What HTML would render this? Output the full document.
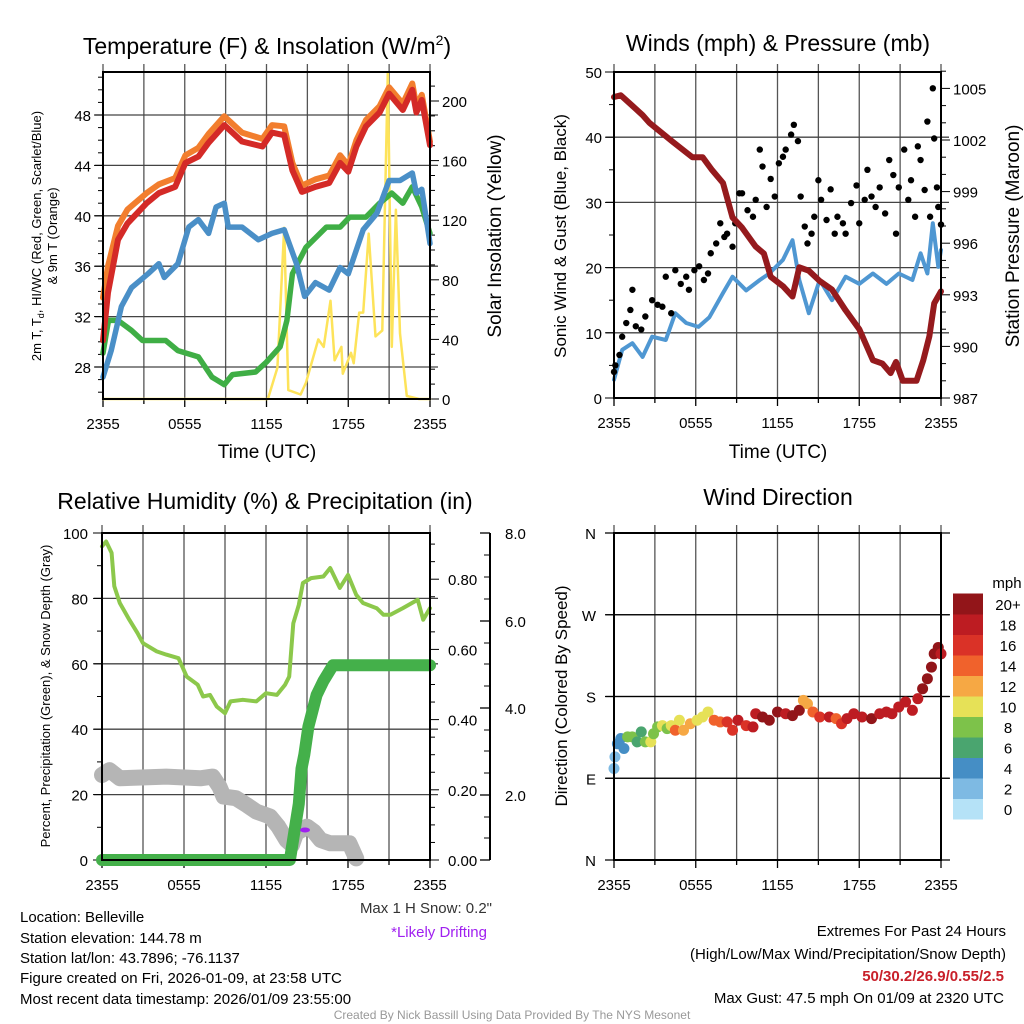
<!DOCTYPE html>
<html><head><meta charset="utf-8">
<style>
html,body{margin:0;padding:0;background:#fff;}
svg{display:block;font-family:"Liberation Sans",Arial,sans-serif;}
</style></head>
<body>
<svg id="c" width="1024" height="1024" viewBox="0 0 1024 1024" xmlns="http://www.w3.org/2000/svg">
<rect width="1024" height="1024" fill="#fff"/>
<g id="g1"></g>
<g id="g2"></g>
<g id="g3"></g>
<g id="g4"></g>
<text x="267" y="54" font-size="23" text-anchor="middle">Temperature (F) &amp; Insolation (W/m<tspan dy="-9" font-size="14">2</tspan><tspan dy="9">)</tspan></text>
<text x="778" y="51" font-size="23" text-anchor="middle">Winds (mph) &amp; Pressure (mb)</text>
<text x="265" y="509" font-size="23" text-anchor="middle">Relative Humidity (%) &amp; Precipitation (in)</text>
<text x="778" y="505" font-size="23" text-anchor="middle">Wind Direction</text>
<text x="267" y="458" font-size="19" text-anchor="middle">Time (UTC)</text>
<text x="778" y="458" font-size="19" text-anchor="middle">Time (UTC)</text>
<text transform="translate(41,236) rotate(-90)" font-size="13" text-anchor="middle">2m T, T<tspan dy="3" font-size="9">d</tspan><tspan dy="-3">, HI/WC (Red, Green, Scarlet/Blue)</tspan></text>
<text transform="translate(57,236) rotate(-90)" font-size="13" text-anchor="middle">&amp; 9m T (Orange)</text>
<text transform="translate(501,236) rotate(-90)" font-size="19" text-anchor="middle">Solar Insolation (Yellow)</text>
<text transform="translate(566,236) rotate(-90)" font-size="17" text-anchor="middle">Sonic Wind &amp; Gust (Blue, Black)</text>
<text transform="translate(1019,236) rotate(-90)" font-size="19" text-anchor="middle">Station Pressure (Maroon)</text>
<text transform="translate(50,696) rotate(-90)" font-size="13" text-anchor="middle">Percent, Precipitation (Green), &amp; Snow Depth (Gray)</text>
<text transform="translate(567,696) rotate(-90)" font-size="17" text-anchor="middle">Direction (Colored By Speed)</text>
<g font-size="15">
<text x="20" y="922">Location: Belleville</text>
<text x="20" y="943">Station elevation: 144.78 m</text>
<text x="20" y="963">Station lat/lon: 43.7896; -76.1137</text>
<text x="20" y="983">Figure created on Fri, 2026-01-09, at 23:58 UTC</text>
<text x="20" y="1004">Most recent data timestamp: 2026/01/09 23:55:00</text>
</g>
<text x="492" y="913" font-size="15" fill="#333" text-anchor="end">Max 1 H Snow: 0.2"</text>
<text x="487" y="937" font-size="15" fill="#a020f0" text-anchor="end">*Likely Drifting</text>
<g font-size="15" text-anchor="end">
<text x="1006" y="936">Extremes For Past 24 Hours</text>
<text x="1006" y="959">(High/Low/Max Wind/Precipitation/Snow Depth)</text>
<text x="1004" y="981" font-weight="bold" fill="#c8202a">50/30.2/26.9/0.55/2.5</text>
<text x="1004" y="1003">Max Gust: 47.5 mph On 01/09 at 2320 UTC</text>
</g>
<text x="512" y="1019" font-size="12" fill="#999" text-anchor="middle">Created By Nick Bassill Using Data Provided By The NYS Mesonet</text>
</svg>
<script>
// ---- Temperature panel data (hours since 2355) ----
const redT=[0,0.37,1.1,1.8,3.2,4.1,5.3,6.05,7.0,7.75,8.9,10.2,11.7,12.4,13.3,13.9,14.6,15.6,16.6,17.4,18.0,18.6,19.3,20.3,21.0,22.0,22.7,23.0,23.4,24];
const redV=[30.1,33.9,38.1,39.4,41.0,41.8,42.3,44.2,44.7,45.8,47.2,45.9,45.5,46.6,46.4,43.6,41.9,42.3,42.6,44.2,43.5,45.5,47.1,48.2,49.7,48.4,50.0,48.2,49.2,45.6];
const orangeV=[33.5,36.0,39.2,40.5,41.8,42.5,43.0,44.8,45.4,46.5,47.9,46.6,46.1,47.2,47.1,44.2,42.4,42.9,43.2,44.8,44.0,46.0,47.6,48.7,50.2,48.9,50.5,48.7,49.6,45.9];
const blueT=[0,0.6,1.35,2.1,3.3,4.1,4.5,5.5,6.3,7.0,7.75,8.3,8.9,9.2,10.2,11.4,12.4,13.3,14.2,14.8,15.6,16.6,17.4,18.0,19.1,20.1,21,21.8,22.7,23,23.4,24];
const blueV=[27.2,29.3,32.8,34.3,35.4,36.2,35.1,36.2,39.1,39.7,38.6,40.7,41.0,39.1,39.1,38.1,38.6,38.9,36.2,33.6,34.7,34.1,35.9,35.4,38.9,40.2,42.8,42.8,43.4,41.8,42.1,37.8];
const greenT=[0,0.4,1.1,2.1,2.9,4.6,5.5,7.0,8.0,8.9,9.5,11.2,12.0,13.0,13.5,13.9,14.9,16.4,17.4,18.1,19.3,20.3,21.2,22,22.7,23.4,24];
const greenV=[29.1,31.7,31.7,30.9,30.1,30.1,29.3,28.8,27.2,26.6,27.4,27.6,28.4,29.6,31.7,35.4,37.5,39.1,39.1,39.9,39.9,41.0,41.8,41.0,42.3,40.7,38.6];
const solarT=[0,12.1,12.8,13.3,13.6,14.5,14.9,15.8,16.2,16.7,17.0,17.5,17.6,18.2,18.4,18.8,19.1,19.5,20.0,20.5,20.9,21.2,21.5,21.8,22.3,23.2,24];
const solarV=[0,0,21,115,6,3,11,40,35,66,26,35,17,31,24,58,58,111,42,46,219,35,127,44,2,0,0];
const tempTicks=[28,32,36,40,44,48];
const solarTicks=[0,40,80,120,160,200];
const timeLabels=["2355","0555","1155","1755","2355"];
// ---- Winds panel data ----
const presT=[0,0.5,2.1,2.6,4.3,5.75,6.5,7.2,8.0,8.7,9.4,10.4,11.0,11.5,12.4,13.1,13.6,14.3,15.1,16.0,17.0,18.0,19.0,19.7,20.3,20.7,21.2,22.2,22.7,23.15,23.5,24];
const presV=[1004.5,1004.6,1003.45,1003.0,1001.9,1001.0,1001.0,1000.25,999.5,997.5,996.9,995.8,995.4,994.05,993.5,992.9,994.6,994.4,993.8,993.3,992.1,991.0,989.2,989.0,988.45,989.1,988.0,988.0,989.2,990.6,992.5,993.2];
const windT=[0,0.6,1.35,2.1,2.8,3.8,4.5,5.3,6.2,7.0,8.0,8.7,9.7,10.7,11.4,12.4,13.1,13.6,14.3,15.1,16.0,17.0,18.0,19.0,20.0,20.9,21.9,22.5,23.0,23.4,23.8,24];
const windV=[2.8,7.4,8.4,6.3,9.4,8.9,13.0,11.5,10.9,12.4,16.1,18.6,16.5,18.1,19.1,21.2,24.2,18.1,13.0,18.1,15.0,18.6,17.5,19.1,17.5,19.1,18.1,22.2,19.1,26.8,20.1,22.7];
const gustT=[0,0.1,0.4,0.6,0.9,1.2,1.35,1.6,2.0,2.3,2.8,3.2,3.55,3.8,4.2,4.5,4.9,5.3,5.5,5.9,6.25,6.6,6.9,7.1,7.5,7.8,8.1,8.3,8.7,8.9,9.2,9.4,9.8,10.2,10.4,10.7,10.9,11.2,11.5,11.8,12.1,12.4,12.6,13.0,13.2,13.5,13.7,14.0,14.2,14.5,14.7,15.0,15.2,15.6,15.9,16.2,16.4,16.8,17.0,17.4,17.8,18.0,18.4,18.6,18.9,19.2,19.5,19.9,20.2,20.5,20.7,20.9,21.3,21.6,21.8,22.1,22.3,22.5,22.8,23.0,23.2,23.4,23.5,23.7,23.8,24];
const gustV=[4.0,5,6.6,9.4,11.5,13.5,16.6,11,10.5,12.5,15,14.3,14,18.6,13,19.6,17.5,18.6,16.6,19.6,20.2,18.1,19.1,22.2,23.7,26.8,24.7,25.2,23.2,26.8,31.4,31.4,28.8,27.8,30.4,38.1,35.5,29.3,33.6,30.9,36,37,38.1,40.4,41.9,39.4,30.9,26.3,23.7,25.2,27.8,33.4,30.4,27.3,32,25.2,27.8,26.8,25.2,29.9,32.6,26.8,30.4,35.0,30.9,29.3,32.3,28.3,36.5,34.2,25.2,32.3,38.1,30.4,33.4,27.8,38.6,36.5,31.9,42.4,27.8,47.5,39.8,32.3,29.3,26.6];
const windTicks=[0,10,20,30,40,50];
const presTicks=[987,990,993,996,999,1002,1005];
// ---- Humidity panel data ----
const rhT=[0,0.3,0.7,0.9,1.3,2.0,2.6,3.0,4.0,4.7,5.6,6.2,7.0,7.4,7.9,8.4,9.0,9.4,10.3,11.3,12.0,12.8,13.4,13.7,14.0,14.4,14.7,15.3,16.2,16.7,17.4,18.0,18.6,19.1,20.1,20.6,21.1,22.0,23.1,23.5,24];
const rhV=[95.9,97.4,93.9,83.7,78.6,73.5,69.4,66.3,63.8,62.8,61.7,56.1,53.6,50,50.5,46.9,44.9,48.5,49,48.5,51,50.5,53.6,56.1,72.4,78,84.7,86.2,86.7,89.3,83.2,87.2,81.1,78.6,77,75,75,77,79.6,73.5,77];
const precipT=[0,13.75,14.4,14.6,14.8,15.1,15.7,16.2,16.9,24];
const precipV=[0,0,0.16,0.26,0.30,0.38,0.47,0.51,0.555,0.555];
const snowT=[0,0.55,1.3,4.7,7.2,8.1,8.6,8.9,9.8,10.6,11.3,12.3,12.9,13.5,13.9,14.2,15.0,15.5,16.0,16.7,18.1,18.6];
const snowV=[26,27.5,25,25.5,25,25.5,22.4,19.4,18.9,16.8,14.8,13.3,10.2,6.1,4.6,8.2,10.2,8.7,6.1,5.1,5.1,0.5];
const rhTicks=[0,20,40,60,80,100];
const precipTicks=[0,0.2,0.4,0.6,0.8];
const precipLabels=["0.00","0.20","0.40","0.60","0.80"];
const snowLabels=["2.0","4.0","6.0","8.0"];
// ---- Wind direction panel data ----
const dirT=[0,0.07,0.25,0.5,0.73,1.0,1.35,1.7,2.0,2.3,2.7,2.9,3.2,3.55,3.9,4.2,4.5,4.8,5.1,5.6,6.1,6.5,6.9,7.35,7.8,8.3,8.7,9.1,9.7,10.2,10.4,10.9,11.4,12.0,12.6,13.1,13.6,13.9,14.2,14.6,15.1,15.8,16.3,16.7,17.1,17.6,18.2,18.9,19.5,20.0,20.4,20.9,21.4,21.9,22.3,22.65,23.0,23.3,23.5,23.8,24];
const dirV=[100.7,113.5,128,133.7,122.7,135.5,135.5,130,141,130,130,139,146.5,148,144.7,148,142.8,153.8,142.8,150,153.8,157.5,163,153.8,152,152,142.8,153.8,148,146.5,161,157.5,153.8,163,161,159,164.8,175.8,172,163,157.5,157.5,155.6,150,155.6,161,157.5,155.6,161,163,161,168.5,174,164.8,177.6,188.6,199.6,212.4,227,234,227];
const dirSpd=[2,3,4,4,5,8,8,7,6,8,10,8,8,10,8,10,14,10,12,12,10,10,10,14,14,16,16,18,16,18,18,20,20,20,18,20,20,13,12,14,16,18,14,16,18,18,18,20,18,18,18,18,18,18,18,20,20,20,20,20,18];
const dirLabels=["N","E","S","W","N"];
const cbarLabels=["0","2","4","6","8","10","12","14","16","18","20+"];
const cbarColors=["#b5e2f7","#7ebae3","#458ec5","#4aa56f","#7dc24a","#e6e157","#f6a844","#f0622c","#da3227","#bd1c22","#921519"];

const NS="http://www.w3.org/2000/svg";
function el(tag,attrs,parent){const e=document.createElementNS(NS,tag);for(const k in attrs)e.setAttribute(k,attrs[k]);parent.appendChild(e);return e;}
function txt(s,attrs,parent){const e=el("text",attrs,parent);e.textContent=s;return e;}
function pathD(ts,vs,sx,sy){return ts.map((t,i)=>(i?"L":"M")+sx(t).toFixed(1)+","+sy(vs[i]).toFixed(1)).join("");}

function frame(g,x0,x1,y0,y1,hTicks,sy){
  for(let h=0;h<=24;h+=3){const x=x0+(x1-x0)*h/24;
    const ln=el("line",{x1:x,x2:x,y1:y0-8,y2:y1,stroke:"#555","stroke-width":1.3},g);
    
    
    const tk=el("line",{x1:x,x2:x,y1:y1,y2:y1+(h%6===0?8:5),stroke:"#000","stroke-width":1.3},g);
    
    
  }
  hTicks.forEach(v=>{const y=sy(v);
    const ln=el("line",{x1:x0-8,x2:x1+8,y1:y,y2:y,stroke:"#444","stroke-width":1.3},g);
    
    
  });
  timeLabels.forEach((s,i)=>{const t=txt(s,{x:x0+(x1-x0)*i/4,y:y1+30,"font-size":15,"text-anchor":"middle"},g);
    
    });
}
function box(g,x0,x1,y0,y1){const r=el("rect",{x:x0,y:y0,width:x1-x0,height:y1-y0,fill:"none",stroke:"#000","stroke-width":2},g);
  
  }
function line(g,ts,vs,sx,sy,color,w,name){const p=el("path",{d:pathD(ts,vs,sx,sy),fill:"none",stroke:color,"stroke-width":w,"stroke-linejoin":"round","stroke-linecap":"round"},g);
  
  return p;}

// ===== Panel 1 =====
{const g=document.getElementById("g1");const x0=103,x1=430,y0=72,y1=399;
 const sx=t=>x0+(x1-x0)*t/24, sy=v=>367-(v-28)*12.6, ss=v=>Math.max(y0,399-v*1.49);
 frame(g,x0,x1,y0,y1,tempTicks,sy);
 for(let v=26;v<=51;v++){const y=sy(v);const tk=el("line",{x1:x0-(v%4===0?9:5),x2:x0,y1:y,y2:y,stroke:"#000","stroke-width":1},g);
   
   }
 tempTicks.forEach(v=>{const t=txt(String(v),{x:x0-12,y:sy(v)+6,"font-size":15,"text-anchor":"end"},g);
   
   });
 for(let v=0;v<=210;v+=10){const y=399-v*1.49;const tk=el("line",{x1:x1,x2:x1+(v%40===0?9:5),y1:y,y2:y,stroke:"#000","stroke-width":1},g);
   
   }
 solarTicks.forEach(v=>{const t=txt(String(v),{x:x1+12,y:399-v*1.49+6,"font-size":15},g);
   
   });
 line(g,solarT,solarV,sx,ss,"#fde35a",2.5,"solar-insolation-line");
 line(g,greenT,greenV,sx,sy,"#3fae45",5.5,"dewpoint-line");
 line(g,blueT,blueV,sx,sy,"#4a8fc7",5.5,"wind-chill-line");
 line(g,redT,orangeV,sx,sy,"#f27e2e",6,"temp-9m-line");
 line(g,redT,redV,sx,sy,"#d42a27",6,"temp-2m-line");
 box(g,x0,x1,y0,y1);}

// ===== Panel 2 =====
{const g=document.getElementById("g2");const x0=614,x1=941,y0=72,y1=398;
 const sx=t=>x0+(x1-x0)*t/24, sy=v=>398-v*6.52, sp=v=>398-(v-987)*17.2;
 frame(g,x0,x1,y0,y1,[10,20,30,40],sy);
 for(let v=0;v<=50;v+=5){const tk=el("line",{x1:x0-(v%10===0?9:5),x2:x0,y1:sy(v),y2:sy(v),stroke:"#000","stroke-width":1},g);
   
   }
 windTicks.forEach(v=>{const t=txt(String(v),{x:x0-12,y:sy(v)+6,"font-size":15,"text-anchor":"end"},g);
   
   });
 for(let v=987;v<=1006;v++){const tk=el("line",{x1:x1,x2:x1+((v-987)%3===0?9:5),y1:sp(v),y2:sp(v),stroke:"#000","stroke-width":1},g);
   
   }
 presTicks.forEach(v=>{const t=txt(String(v),{x:x1+12,y:sp(v)+6,"font-size":15},g);
   
   });
 line(g,windT,windV,sx,sy,"#4f97d2",4,"sonic-wind-line");
 gustT.forEach((t,i)=>{const c=el("circle",{cx:sx(t),cy:sy(gustV[i]),r:3.2,fill:"#000"},g);
   
   });
 line(g,presT,presV,sx,sp,"#951a1d",6,"pressure-line");
 box(g,x0,x1,y0,y1);}

// ===== Panel 3 =====
{const g=document.getElementById("g3");const x0=102,x1=430,y0=533,y1=860;
 const sx=t=>x0+(x1-x0)*t/24, sy=v=>860-v*3.27, sp=v=>860-v*351;
 frame(g,x0,x1,y0,y1,[20,40,60,80],sy);
 for(let v=0;v<=100;v+=10){const tk=el("line",{x1:x0-(v%20===0?9:5),x2:x0,y1:sy(v),y2:sy(v),stroke:"#000","stroke-width":1},g);
   
   }
 rhTicks.forEach(v=>{const t=txt(String(v),{x:x0-14,y:sy(v)+6,"font-size":15,"text-anchor":"end"},g);
   
   });
 for(let v=0;v<=0.92;v+=0.05){const tk=el("line",{x1:x1,x2:x1+(Math.round(v*100)%20===0?9:5),y1:sp(v),y2:sp(v),stroke:"#000","stroke-width":1},g);
   
   }
 precipTicks.forEach((v,i)=>{const t=txt(precipLabels[i],{x:x1+18,y:sp(v)+6,"font-size":15},g);
   
   });
 const ax=el("line",{x1:490,x2:490,y1:533,y2:860,stroke:"#000","stroke-width":2},g);
 
 
 const snowY=[860,795,708,621,533];
 const snowYm=[838,817,773,751,730,686,664,643,599,577,555];
 snowYm.forEach(y=>{const tk=el("line",{x1:484,x2:490,y1:y,y2:y,stroke:"#000","stroke-width":1},g);
   
   });
 snowY.forEach((y,i)=>{const tk=el("line",{x1:480,x2:490,y1:y,y2:y,stroke:"#000","stroke-width":1.3},g);
   
   
   if(i>0){const t=txt(snowLabels[i-1],{x:505,y:y+6,"font-size":15},g);
     
     }});
 line(g,snowT,snowV,sx,sy,"#b5b5b5",16,"snow-depth-line");
 line(g,rhT,rhV,sx,sy,"#8cc84b",4,"relative-humidity-line");
 line(g,precipT,precipV,sx,sp,"#44b04a",12,"precipitation-line");
 const d=el("ellipse",{cx:305,cy:830,rx:5,ry:2.5,fill:"#a020f0"},g);
 
 
 box(g,x0,x1,y0,y1);}

// ===== Panel 4 =====
{const g=document.getElementById("g4");const x0=614,x1=941,y0=533,y1=860;
 const sx=t=>x0+(x1-x0)*t/24, sy=v=>860-v/360*327;
 frame(g,x0,x1,y0,y1,[90,180,270],sy);
 [0,90,180,270,360].forEach((v,i)=>{const tk=el("line",{x1:x0-9,x2:x1+9,y1:sy(v),y2:sy(v),stroke:"#000","stroke-width":1.3},g);
   
   
   const t=txt(dirLabels[i],{x:x0-18,y:sy(v)+6,"font-size":15,"text-anchor":"end"},g);
   
   });
 dirT.forEach((t,i)=>{const idx=Math.min(10,Math.floor(dirSpd[i]/2));
   const c=el("circle",{cx:sx(t),cy:sy(dirV[i]),r:5.5,fill:cbarColors[idx]},g);
   
   });
 box(g,x0,x1,y0,y1);
 const h=20.5;
 cbarLabels.forEach((s,i)=>{const y=819-(i+1)*h;
   const r=el("rect",{x:953,y:y,width:30,height:h+0.5,fill:cbarColors[i]},g);
   
   
   const t=txt(s,{x:1008,y:y+h/2+6,"font-size":15,"text-anchor":"middle"},g);
   
   });
 const u=txt("mph",{x:1007,y:588,"font-size":15,"text-anchor":"middle"},g);
 
 }
</script>
</body></html>
